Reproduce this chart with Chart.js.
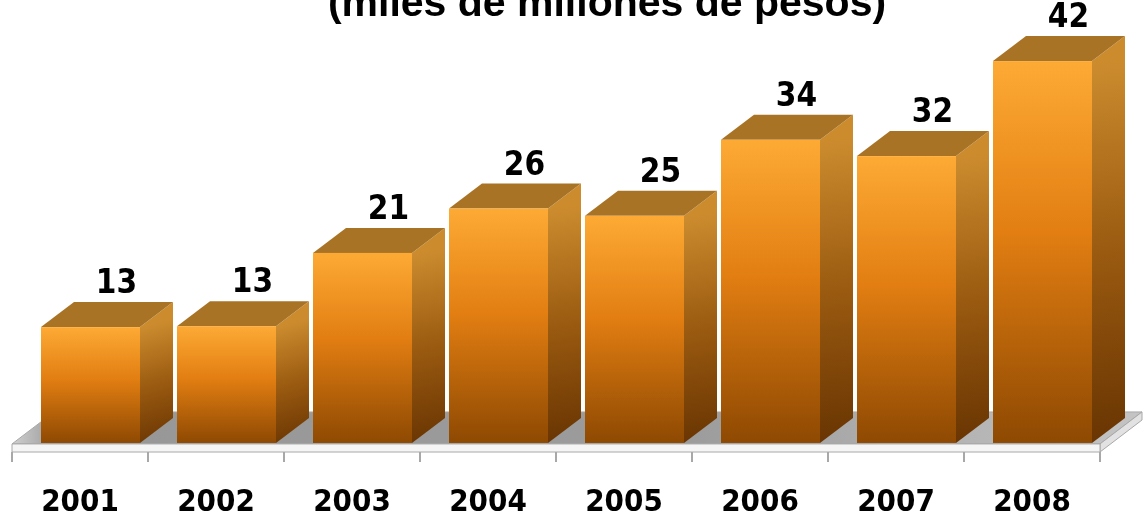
<!DOCTYPE html>
<html>
<head>
<meta charset="utf-8">
<script src="https://cdn.jsdelivr.net/npm/chart.js@4.4.1/dist/chart.umd.min.js"></script>
<style>
  html, body { margin: 0; padding: 0; background: #fff; }
  canvas { display: block; }
</style>
</head>
<body>
<canvas id="chart" width="1146" height="517"></canvas>
<script>
const years = ["2001", "2002", "2003", "2004", "2005", "2006", "2007", "2008"];
const amounts = [12.8, 12.9, 21.0, 25.9, 25.1, 33.5, 31.7, 42.2];
const titleText = "(miles de millones de pesos)";

const labelFont = "'DejaVu Sans Condensed', 'DejaVu Sans', sans-serif";
const depthX = 33;
const depthY = 25;
const barShift = 10.5;

function poly(ctx, pts) {
  ctx.beginPath();
  ctx.moveTo(pts[0][0], pts[0][1]);
  for (let i = 1; i < pts.length; i++) ctx.lineTo(pts[i][0], pts[i][1]);
  ctx.closePath();
}

// grey 3d floor under the bars
const floorPlugin = {
  id: "floor",
  beforeDatasetsDraw(chart) {
    const ctx = chart.ctx;
    const area = chart.chartArea;
    const yTop = chart.scales.y.getPixelForValue(0) + 1;
    const yBot = area.bottom;
    const x0 = area.left, x1 = area.right;
    const fx = 42, fy = 32;
    ctx.save();
    ctx.lineWidth = 1;
    ctx.strokeStyle = "#a8a8a8";

    const g = ctx.createLinearGradient(x0, 0, x1 + fx, 0);
    g.addColorStop(0, "#d0d0d0");
    g.addColorStop(0.04, "#979797");
    g.addColorStop(0.6, "#9c9c9c");
    g.addColorStop(1, "#c4c4c4");
    poly(ctx, [[x0, yTop], [x1, yTop], [x1 + fx, yTop - fy], [x0 + fx, yTop - fy]]);
    ctx.fillStyle = g;
    ctx.fill();
    ctx.stroke();

    poly(ctx, [[x1, yTop], [x1 + fx, yTop - fy], [x1 + fx, yTop - fy + (yBot - yTop)], [x1, yBot]]);
    ctx.fillStyle = "#e2e2e2";
    ctx.fill();
    ctx.stroke();

    poly(ctx, [[x0, yTop], [x1, yTop], [x1, yBot], [x0, yBot]]);
    ctx.fillStyle = "#f5f5f5";
    ctx.fill();
    ctx.stroke();
    ctx.restore();
  }
};

// front, side and top faces of each bar, then the value labels
const bars3dPlugin = {
  id: "bars3d",
  afterDatasetsDraw(chart) {
    const ctx = chart.ctx;
    const meta = chart.getDatasetMeta(0);
    ctx.save();
    meta.data.forEach((bar, i) => {
      const w = bar.width;
      const left = bar.x - w / 2 + barShift;
      const right = left + w;
      const top = bar.y;
      const base = bar.base;

      const side = ctx.createLinearGradient(right, top, right + depthX, base);
      side.addColorStop(0, "#cc8c2e");
      side.addColorStop(0.5, "#9a5a10");
      side.addColorStop(1, "#683402");
      poly(ctx, [[right, top], [right + depthX, top - depthY], [right + depthX, base - depthY], [right, base]]);
      ctx.fillStyle = side;
      ctx.fill();

      poly(ctx, [[left, top], [right, top], [right + depthX, top - depthY], [left + depthX, top - depthY]]);
      ctx.fillStyle = "#a97326";
      ctx.fill();

      const front = ctx.createLinearGradient(0, top, 0, base);
      front.addColorStop(0, "#fdaa35");
      front.addColorStop(0.45, "#e27e12");
      front.addColorStop(1, "#8e4902");
      ctx.fillStyle = front;
      ctx.fillRect(left, top, w, base - top);

      ctx.fillStyle = "#000";
      ctx.font = "bold 33px " + labelFont;
      ctx.textAlign = "center";
      ctx.textBaseline = "alphabetic";
      ctx.fillText(Math.round(amounts[i]), left + w / 2 + 26, top - 34);
    });
    ctx.restore();
  }
};

const titlePlugin = {
  id: "cutTitle",
  afterDraw(chart) {
    const ctx = chart.ctx;
    ctx.save();
    ctx.fillStyle = "#000";
    ctx.font = "bold 41px 'Liberation Sans', Arial, sans-serif";
    ctx.textAlign = "center";
    ctx.textBaseline = "alphabetic";
    ctx.fillText(titleText, 607, 16);
    ctx.restore();
  }
};

new Chart(document.getElementById("chart"), {
  type: "bar",
  data: {
    labels: years,
    datasets: [{
      data: amounts,
      backgroundColor: "rgba(0,0,0,0)",
      borderWidth: 0,
      barPercentage: 0.728,
      categoryPercentage: 1
    }]
  },
  options: {
    responsive: false,
    animation: false,
    devicePixelRatio: 1,
    layout: {
      padding: { left: 12, right: 46, top: 0, bottom: 0 }
    },
    plugins: {
      legend: { display: false },
      tooltip: { enabled: false }
    },
    scales: {
      x: {
        afterFit: axis => { axis.height = 65; },
        border: { display: false },
        grid: {
          display: true,
          offset: true,
          drawOnChartArea: false,
          drawTicks: true,
          tickLength: 10,
          color: "#a8a8a8",
          lineWidth: 2
        },
        ticks: {
          color: "#000",
          padding: 22,
          font: { family: labelFont, size: 31, weight: "bold" }
        }
      },
      y: {
        display: false,
        min: -1.0,
        max: 48.95
      }
    }
  },
  plugins: [floorPlugin, bars3dPlugin, titlePlugin]
});
</script>
</body>
</html>
